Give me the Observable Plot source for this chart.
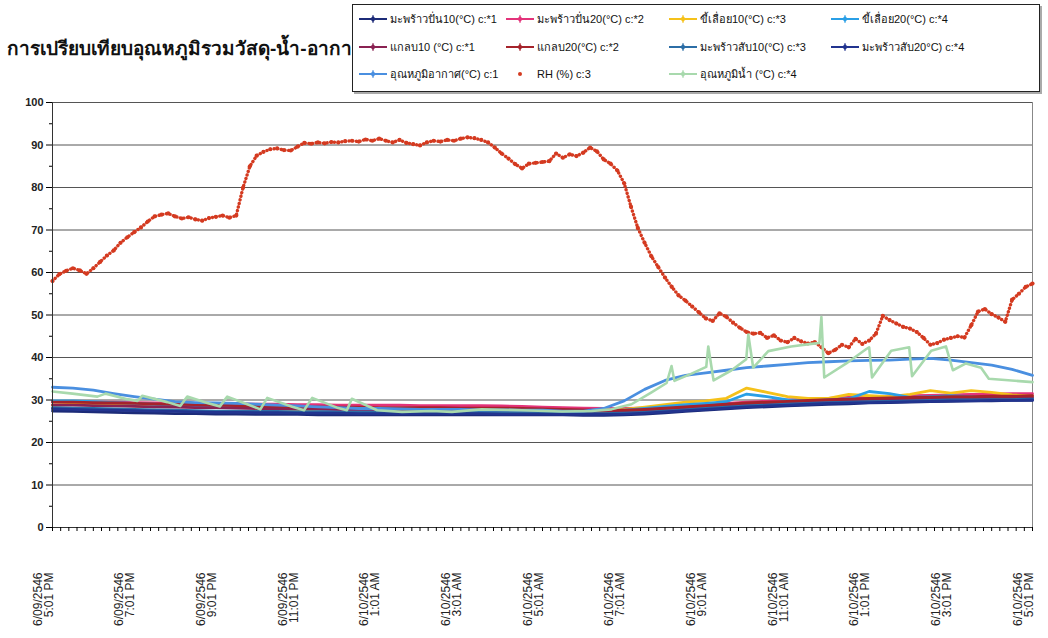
<!DOCTYPE html>
<html><head><meta charset="utf-8">
<script src="https://cdn.jsdelivr.net/npm/d3@7"></script>
<script src="https://cdn.jsdelivr.net/npm/@observablehq/plot@0.6"></script>
<style>
body{margin:0;background:#fff;font-family:"Liberation Sans",Arial,"Noto Sans",sans-serif;}
#wrap{position:relative;width:1048px;height:638px;overflow:hidden;background:#fff;}
#chart{position:absolute;left:0;top:0;}
#title{position:absolute;left:7px;top:33px;font-size:19px;font-weight:bold;white-space:nowrap;color:#111;}
#legend{position:absolute;left:352px;top:4px;width:686px;height:86px;border:1px solid #222;background:#fff;box-shadow:2px 2px 0 #aaa;}
.li{position:absolute;font-size:11px;display:flex;align-items:center;white-space:nowrap;color:#111;height:14px;}
.li svg{margin-right:3px;}
</style></head><body>
<div id="wrap"><div id="chart"></div><div id="title">การเปรียบเทียบอุณหภูมิรวมวัสดุ-น้ำ-อากาศ</div><div id="legend"></div></div>
<script>
// ---- data ----
const xLabelHours = [0,2,4,6,8,10,12,14,16,18,20,22,24];
const xLabelDates = ["6/09/2546","6/09/2546","6/09/2546","6/09/2546","6/10/2546","6/10/2546","6/10/2546","6/10/2546","6/10/2546","6/10/2546","6/10/2546","6/10/2546","6/10/2546"];
const xLabelTimes = ["5:01 PM","7:01 PM","9:01 PM","11:01 PM","1:01 AM","3:01 AM","5:01 AM","7:01 AM","9:01 AM","11:01 AM","1:01 PM","3:01 PM","5:01 PM"];
const yTicks = [0,10,20,30,40,50,60,70,80,90,100];

// material temperatures, every 30 minutes from 5:01 PM
const coco10 = [27.4,27.3,27.2,27.1,27.0,26.9,26.8,26.8,26.7,26.7,26.6,26.6,26.6,26.5,26.5,26.5,26.5,26.5,26.5,26.5,26.5,26.5,26.5,26.5,26.5,26.5,26.4,26.4,26.5,26.7,27.0,27.3,27.6,27.9,28.2,28.4,28.6,28.8,29.0,29.1,29.3,29.4,29.5,29.6,29.7,29.8,29.8,29.9,29.9];
const coco20 = [29.6,29.6,29.5,29.5,29.4,29.3,29.3,29.2,29.2,29.1,29.0,29.0,28.9,28.9,28.8,28.8,28.8,28.8,28.7,28.7,28.7,28.7,28.6,28.5,28.3,28.2,28.1,28.0,28.0,28.1,28.3,28.6,28.9,29.2,29.5,29.7,30.0,30.2,30.4,30.6,30.8,30.9,31.0,31.1,31.2,31.3,31.4,31.5,31.5];
const saw10 = [28.8,29.0,29.2,29.0,28.6,28.4,29.2,28.8,28.4,28.6,28.2,27.9,27.8,27.6,27.5,27.5,27.5,27.5,27.5,27.5,27.5,27.5,27.5,27.5,27.4,27.4,27.4,27.6,27.8,28.3,28.9,29.5,29.8,30.4,32.8,31.8,30.8,30.4,30.4,31.3,31.0,30.8,31.3,32.2,31.6,32.2,31.8,31.2,30.9];
const saw20 = [29.8,29.8,29.6,29.4,29.2,29.0,28.8,28.6,28.6,28.4,28.2,28.0,27.9,27.8,27.7,27.7,27.6,27.6,27.5,27.5,27.5,27.4,27.4,27.3,27.3,27.3,27.2,27.3,27.6,28.0,28.5,28.9,29.2,29.6,31.4,30.8,30.0,29.8,30.0,30.3,32.0,31.5,30.6,30.8,31.0,30.8,30.6,30.5,30.4];
const husk10 = [28.8,28.8,28.7,28.6,28.5,28.4,28.3,28.2,28.2,28.1,28.0,28.0,27.9,27.9,27.8,27.8,27.8,27.8,27.7,27.7,27.7,27.7,27.6,27.6,27.5,27.4,27.3,27.2,27.2,27.4,27.7,28.0,28.3,28.6,28.9,29.1,29.3,29.5,29.7,29.8,30.0,30.1,30.2,30.3,30.4,30.4,30.5,30.5,30.6];
const husk20 = [29.5,29.5,29.4,29.3,29.2,29.1,29.0,28.9,28.8,28.7,28.6,28.5,28.4,28.4,28.3,28.3,28.2,28.2,28.2,28.2,28.1,28.1,28.1,28.0,27.9,27.8,27.7,27.6,27.6,27.8,28.1,28.4,28.7,29.0,29.3,29.5,29.7,29.9,30.1,30.2,30.4,30.5,30.6,30.7,30.8,30.8,30.9,30.9,31.0];
const chop10 = [28.2,28.1,28.0,27.9,27.8,27.7,27.6,27.5,27.4,27.4,27.3,27.3,27.2,27.2,27.1,27.1,27.1,27.0,27.0,27.0,27.0,27.0,27.0,27.0,26.9,26.9,26.8,26.8,26.9,27.1,27.4,27.7,28.0,28.3,28.6,28.8,29.0,29.2,29.4,29.5,29.6,29.7,29.8,29.9,30.0,30.0,30.1,30.1,30.2];
const chop20 = [27.9,27.8,27.7,27.6,27.5,27.4,27.3,27.2,27.1,27.1,27.0,27.0,26.9,26.9,26.9,26.8,26.8,26.8,26.8,26.8,26.8,26.8,26.7,26.7,26.7,26.6,26.6,26.6,26.7,26.9,27.2,27.5,27.8,28.1,28.4,28.6,28.8,29.0,29.2,29.3,29.4,29.5,29.6,29.7,29.8,29.8,29.9,29.9,30.0];
const airTemp = [33.0,32.8,32.3,31.5,30.8,30.2,29.6,29.4,29.3,29.2,29.0,28.8,28.6,28.4,28.2,28.0,28.0,27.9,27.8,27.8,27.8,27.7,27.7,27.6,27.6,27.4,27.4,28.0,29.8,32.5,34.6,35.8,36.4,37.0,37.6,38.0,38.4,38.8,39.0,39.2,39.3,39.4,39.6,39.8,39.4,38.8,38.2,37.2,35.8];

// RH (%), every 10 minutes
const rh = [58.0,59.6,60.4,61.0,60.5,59.7,61.0,62.5,64.0,65.2,67.0,68.3,69.5,70.6,72.0,73.2,73.6,73.9,73.2,72.7,73.0,72.5,72.2,72.8,73.1,73.4,72.9,73.4,80.0,85.0,87.5,88.4,89.0,89.2,88.8,88.7,89.6,90.5,90.3,90.6,90.4,90.7,90.6,90.9,91.0,90.8,91.3,91.0,91.5,91.0,90.6,91.2,90.5,90.2,89.9,90.6,91.0,90.8,91.2,91.0,91.5,91.8,91.6,91.2,90.6,89.4,88.0,86.8,85.5,84.5,85.6,85.8,86.0,86.2,88.0,87.0,87.8,87.4,88.2,89.4,88.5,86.6,85.6,84.0,81.0,75.5,70.5,67.0,63.8,61.3,58.8,56.6,54.6,53.4,52.0,50.6,49.2,48.6,50.4,49.6,48.2,47.0,46.0,45.6,45.8,44.6,45.2,44.0,43.6,44.6,43.8,43.3,43.6,42.4,41.0,41.8,43.0,42.4,44.4,43.2,44.0,45.6,49.8,48.8,48.0,47.2,46.8,46.0,44.6,43.0,43.4,44.2,44.6,45.0,44.7,47.6,50.8,51.4,50.2,49.4,48.4,53.6,55.0,56.6,57.4];

// water temperature: hours after 5:01 PM and values
const waterHours = [0,0.49,1.1,1.3,1.83,2.08,2.2,2.81,3.13,3.3,3.79,4.1,4.28,4.77,5.09,5.26,5.87,6.16,6.36,6.97,7.21,7.33,7.95,8.56,9.29,9.78,10.51,11.49,12.47,13.2,13.69,14.18,14.67,15.04,15.16,15.23,15.65,16.01,16.06,16.19,16.63,16.99,17.04,17.16,17.53,18.09,18.58,18.78,18.83,18.9,19.44,19.93,20.0,20.07,20.54,20.98,21.05,21.52,21.88,22.05,22.37,22.74,22.93,24];
const waterTemp = [32.0,31.5,30.8,31.5,30.2,29.8,31.0,29.5,28.6,30.8,29.3,28.5,30.8,29.0,27.8,30.5,28.4,27.6,30.5,28.2,27.6,30.3,27.6,27.2,27.4,27.2,27.8,27.6,27.3,27.4,27.8,29.0,31.8,34.0,38.0,34.5,36.2,37.8,42.6,34.6,37.0,39.6,45.4,37.6,41.5,42.6,43.2,43.4,49.5,35.3,38.6,42.0,42.4,35.3,41.6,42.4,35.6,41.6,42.6,37.0,38.6,37.6,35.0,34.2];

const series = [
  {name:"มะพร้าวปั่น10(°C) c:*1", v:coco10, color:"#1c2b78"},
  {name:"มะพร้าวปั่น20(°C) c:*2", v:coco20, color:"#e3337a"},
  {name:"ขี้เลื่อย10(°C) c:*3", v:saw10, color:"#f5c11a"},
  {name:"ขี้เลื่อย20(°C) c:*4", v:saw20, color:"#2a9fe6"},
  {name:"แกลบ10 (°C) c:*1", v:husk10, color:"#8a2252"},
  {name:"แกลบ20(°C) c:*2", v:husk20, color:"#a5232b"},
  {name:"มะพร้าวสับ10(°C) c:*3", v:chop10, color:"#2c6ea6"},
  {name:"มะพร้าวสับ20°C) c:*4", v:chop20, color:"#22348f"},
  {name:"อุณหภูมิอากาศ(°C) c:1", v:airTemp, color:"#4a8fe0"}
];
const rhColor = "#d43a20", waterColor = "#a8d9ad";

// ---- chart ----
const marks = [
  Plot.ruleY(yTicks.slice(1), {stroke:"#555", strokeWidth:1}),
  Plot.ruleX([24], {stroke:"#888"}),
];
series.forEach(s => {
  marks.push(Plot.line(s.v, {x:(d,i)=>i*0.5, y:d=>d, stroke:s.color, strokeWidth:2.8, strokeLinejoin:"round"}));
});
marks.push(Plot.line(rh, {x:(d,i)=>i/6, y:d=>d, stroke:rhColor, strokeWidth:3.4, strokeDasharray:"0.1,3.6", strokeLinecap:"round"}));
marks.push(Plot.dot(rh, {x:(d,i)=>i/6, y:d=>d, r:2.1, fill:rhColor, stroke:null}));
marks.push(Plot.line(waterHours, {x:d=>d, y:(d,i)=>waterTemp[i], stroke:waterColor, strokeWidth:2.6, strokeLinejoin:"round"}));
marks.push(
  Plot.ruleY([0], {stroke:"#333"}),
  Plot.ruleX([0], {stroke:"#333"}),
  Plot.axisY({ticks:yTicks, tickSize:6, tickPadding:3, fontSize:11, fontWeight:"bold", fill:"#222", label:null}),
  Plot.axisY({ticks:d3.range(5,100,10), tickSize:3, tickFormat:()=>"", label:null}),
  Plot.axisX({ticks:d3.range(0,24.001,0.2), tickSize:4, tickFormat:()=>"", label:null}),
  Plot.text(xLabelHours, {x:d=>d, text:(d,i)=>xLabelDates[i]+"\n"+xLabelTimes[i], frameAnchor:"bottom", dy:45, rotate:-90, textAnchor:"end", fontSize:12, lineHeight:0.9, fill:"#222"})
);

const chart = Plot.plot({
  width:1048, height:638,
  marginLeft:52, marginRight:16, marginTop:102, marginBottom:111,
  style:{fontFamily:'"Liberation Sans", Arial, sans-serif', background:"#fff", overflow:"visible"},
  x:{domain:[0,24], axis:null},
  y:{domain:[0,100], axis:null},
  marks
});
document.getElementById("chart").appendChild(chart);

// ---- legend ----
const legendItems = [
  ...series.map(s => ({name:s.name, color:s.color, type:"line"})),
  {name:"RH (%) c:3", color:rhColor, type:"dot"},
  {name:"อุณหภูมิน้ำ (°C) c:*4", color:waterColor, type:"line"}
];
const colX = [6,153,316,478], rowY = [7,35,62];
const leg = document.getElementById("legend");
legendItems.forEach((it, i) => {
  const r = Math.floor(i/4), c = i%4;
  const div = document.createElement("div");
  div.className = "li";
  div.style.left = colX[c]+"px"; div.style.top = rowY[r]+"px";
  const svg = it.type==="line"
    ? `<svg width="28" height="10"><line x1="0" y1="5" x2="28" y2="5" stroke="${it.color}" stroke-width="2"/><path d="M14,2 L17,5 L14,8 L11,5Z" fill="${it.color}"/><line x1="14" y1="1" x2="14" y2="9" stroke="${it.color}" stroke-width="1"/></svg>`
    : `<svg width="28" height="10"><circle cx="14" cy="5" r="2" fill="${it.color}"/></svg>`;
  div.innerHTML = svg + `<span>${it.name}</span>`;
  leg.appendChild(div);
});
</script>
</body></html>
